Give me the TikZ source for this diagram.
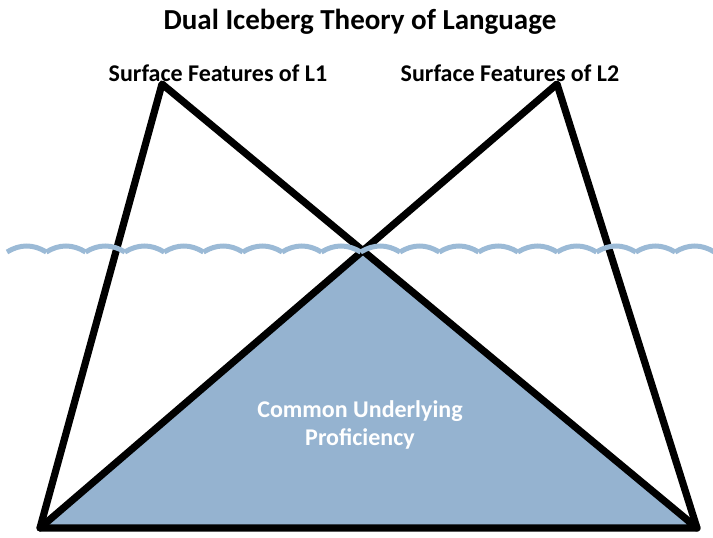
\documentclass[tikz,border=0pt]{standalone}
\usepackage{fontspec}
\setmainfont{Carlito}
\definecolor{icefill}{RGB}{149,179,208}
\definecolor{icewave}{RGB}{155,186,214}
\usetikzlibrary{positioning}

\begin{document}
\begin{tikzpicture}[x=1pt, y=-1pt]
  \useasboundingbox (0,0) rectangle (713,538);

  %% Corners
  \coordinate (bl)  at (40,528);
  \coordinate (br)  at (697,528);
  \coordinate (tl)  at (162,84);
  \coordinate (tr)  at (557,84);
  \coordinate (mid) at (362,252);

  %% Shared part
  \fill[icefill] (bl) -- (mid) -- (br) -- cycle;

  %% Two icebergs
  \draw[line width=7.2pt, line join=round, line cap=round] (bl) -- (tl) -- (br) -- cycle;
  \draw[line width=7.2pt, line join=round, line cap=round] (bl) -- (tr) -- (br);

  %% Water surface
  \foreach \i in {0,...,17}
    \draw[icewave, line width=5pt] (7+39.3*\i,252) .. controls +(13,-8) and +(-13,-8) .. +(39.3,0);

  %% Labels
  \node[font=\fontsize{29}{34}\selectfont\bfseries] (title) at (360,22) {Dual Iceberg Theory of Language};
  \node[font=\fontsize{24}{28}\selectfont\bfseries] (lone) at (218,73) {Surface Features of L1};
  \node[font=\fontsize{24}{28}\selectfont\bfseries] (ltwo) at (510,73) {Surface Features of L2};
  \node[font=\fontsize{24}{28}\selectfont\bfseries, text=white, align=center] (cup) at (360,425) {Common Underlying\\Proficiency};
\end{tikzpicture}
\end{document}
